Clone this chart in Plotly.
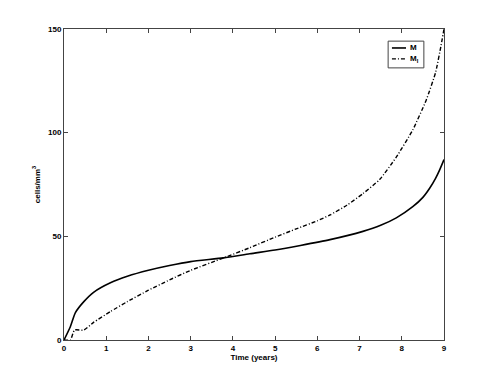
import plotly.graph_objects as go

# time points (years) and cell densities
t_m = [0, 0.15, 0.27, 0.47, 0.7, 1.1, 1.5, 2.0, 2.5, 3.0, 3.78, 4.4, 5.0, 5.6, 6.3,
       7.08, 7.5, 7.87, 8.26, 8.5, 8.66, 8.8, 8.9, 9.0]
m = [0, 6.4, 13.2, 18.5, 23.0, 27.6, 30.7, 33.6, 35.9, 37.8, 39.6, 41.6, 43.4, 45.6, 48.4,
     52.4, 55.3, 58.9, 64.3, 68.8, 73.2, 78.0, 82.2, 87.0]

t_mi = [0, 0.15, 0.25, 0.47, 0.7, 1.1, 1.5, 2.0, 2.5, 3.0, 3.78, 4.4, 5.0, 5.5, 6.0, 6.3,
        6.7, 7.08, 7.48, 7.87, 8.26, 8.58, 8.8, 8.93, 9.0]
m_i = [0, 0, 4.8, 4.8, 8.5, 13.7, 18.5, 24.0, 29.0, 33.6, 39.6, 44.5, 49.6, 53.6, 57.5, 60.3,
       65.0, 70.6, 77.5, 88.2, 101.3, 115.8, 129.0, 142.0, 150.0]

x_ticks = list(range(10))
y_ticks = [0, 50, 100, 150]

FONT = dict(family="Liberation Sans, Arial, sans-serif", size=8, color="black", weight="bold")
DASHDOT = "4px,2px,1px,2px"

fig = go.Figure()
fig.add_trace(go.Scatter(x=t_m, y=m, mode="lines", name="M",
                         line=dict(color="black", width=1.6, shape="spline", smoothing=0.6)))
fig.add_trace(go.Scatter(x=t_mi, y=m_i, mode="lines", name="M<sub>I</sub>",
                         line=dict(color="black", width=1.4, dash=DASHDOT,
                                   shape="spline", smoothing=0.5)))

axis = dict(showline=True, linecolor="#444", linewidth=1, mirror="ticks", ticks="inside",
            ticklen=4, tickcolor="#444", showgrid=False, zeroline=False, tickfont=FONT)

# small matlab-style legend box drawn by hand
legend_rows = [("M", 0.939, dict(color="black", width=1.6)),
               ("M<sub>I</sub>", 0.904, dict(color="black", width=1.2, dash=DASHDOT))]
shapes = [dict(type="rect", xref="paper", yref="paper", x0=0.853, x1=0.947, y0=0.875, y1=0.961,
               line=dict(color="#444", width=1), fillcolor="white", layer="above")]
annotations = []
for label, yy, ln in legend_rows:
    shapes.append(dict(type="line", xref="paper", yref="paper", x0=0.863, x1=0.900,
                       y0=yy, y1=yy, line=ln, layer="above"))
    annotations.append(dict(text=label, xref="paper", yref="paper", x=0.906, y=yy,
                            xanchor="left", yanchor="middle", showarrow=False, font=FONT))

fig.update_layout(
    width=491, height=382,
    margin=dict(l=55.5, r=55, t=21, b=50),
    paper_bgcolor="white", plot_bgcolor="white",
    showlegend=False,
    shapes=shapes, annotations=annotations,
    xaxis=dict(axis, range=[0, 9], tickvals=x_ticks,
               title=dict(text="Time (years)", font=FONT, standoff=2)),
    yaxis=dict(axis, range=[0, 150], tickvals=y_ticks,
               title=dict(text="cells/mm<sup>3</sup>", font=FONT, standoff=6)),
)

fig.write_html("out.html")
